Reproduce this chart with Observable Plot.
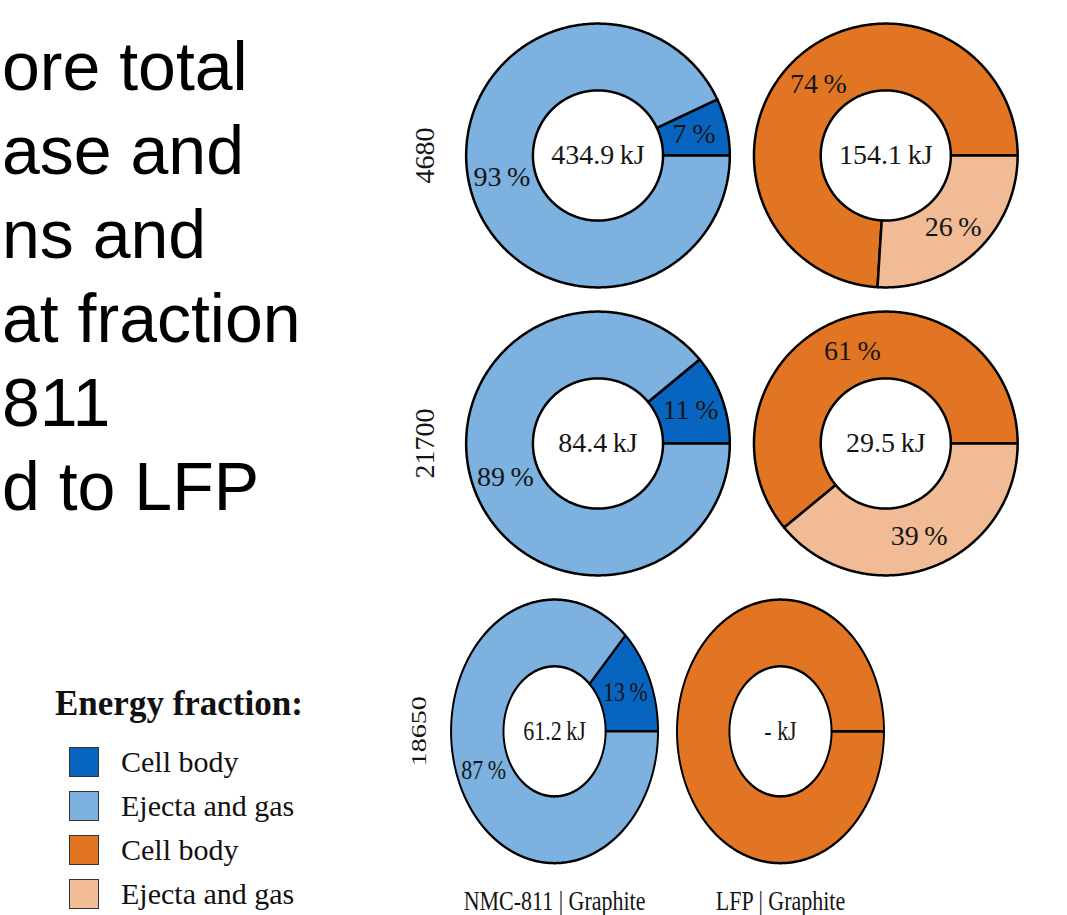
<!DOCTYPE html>
<html>
<head>
<meta charset="utf-8">
<script src="https://cdn.jsdelivr.net/npm/d3@7"></script>
<script src="https://cdn.jsdelivr.net/npm/@observablehq/plot@0.6"></script>
<style>
  html, body { margin: 0; padding: 0; background: #fff; overflow: hidden; }
  body { width: 1067px; height: 915px; position: relative; }
  .slide-line {
    position: absolute; left: 2px; white-space: nowrap;
    font-family: "Liberation Sans", Arial, sans-serif; font-size: 68px; color: #000;
    line-height: 1;
  }
  .legend { position: absolute; left: 55px; top: 684px; font-family: "Liberation Serif", "Times New Roman", serif; color: #111; }
  .legend-title { font-weight: bold; font-size: 35px; margin-bottom: 16px; }
  .legend-item { display: flex; align-items: center; height: 44px; margin-left: 14px; }
  .legend-swatch { width: 28px; height: 28px; border: 1.5px solid #333; margin-right: 22px; }
  .legend-label { font-size: 30px; }
  .row { position: absolute; left: 396px; width: 662px; }
  .row svg { display: block; }
</style>
</head>
<body>
<script>
// Energy released per cell format, split into cell body vs. ejecta and gas
const cellFormats = ["4680", "21700", "18650"];
const chemistries = ["NMC-811 | Graphite", "LFP | Graphite"];

const nmcEnergyKJ = [434.9, 84.4, 61.2];
const nmcCellBodyPct = [7, 11, 13];
const nmcEjectaPct = [93, 89, 87];

const lfpEnergyKJ = [154.1, 29.5, null];
const lfpCellBodyPct = [74, 61, null];
const lfpEjectaPct = [26, 39, null];

const nmcColors = ["#0765bf", "#7db1df"];   // cell body, ejecta and gas
const lfpColors = ["#e27524", "#f0bb95"];

const legendTitle = "Energy fraction:";
const legendLabels = ["Cell body", "Ejecta and gas", "Cell body", "Ejecta and gas"];
const legendColors = [nmcColors[0], nmcColors[1], lfpColors[0], lfpColors[1]];

const slideLines = ["ore total", "ase and", "ns and", "at fraction", "811", "d to LFP"];

// Slide text on the left
slideLines.forEach((t, i) => {
  const el = document.createElement("div");
  el.className = "slide-line";
  el.textContent = t;
  el.style.top = (94 + i * 84 - 62) + "px";
  document.body.appendChild(el);
});

// Legend
const legend = document.createElement("div");
legend.className = "legend";
const title = document.createElement("div");
title.className = "legend-title";
title.textContent = legendTitle;
legend.appendChild(title);
legendLabels.forEach((lab, i) => {
  const item = document.createElement("div");
  item.className = "legend-item";
  const sw = document.createElement("div");
  sw.className = "legend-swatch";
  sw.style.background = legendColors[i];
  const tx = document.createElement("span");
  tx.className = "legend-label";
  tx.textContent = lab;
  item.appendChild(sw);
  item.appendChild(tx);
  legend.appendChild(item);
});
document.body.appendChild(legend);

// Donut geometry (plot units: centers one unit apart)
const R_OUT = 0.458, R_IN = 0.226, R_LAB = (R_OUT + R_IN) / 2;
const STEP = 0.5; // degrees between outline vertices

function wedge(cx, a0, a1, key, color) {
  const pts = [];
  const n = Math.max(1, Math.ceil((a1 - a0) / STEP));
  for (let k = 0; k <= n; k++) {
    const a = (a0 + (a1 - a0) * k / n) * Math.PI / 180;
    pts.push({x: cx + R_OUT * Math.cos(a), y: R_OUT * Math.sin(a), key, color});
  }
  for (let k = n; k >= 0; k--) {
    const a = (a0 + (a1 - a0) * k / n) * Math.PI / 180;
    pts.push({x: cx + R_IN * Math.cos(a), y: R_IN * Math.sin(a), key, color});
  }
  pts.push({...pts[0]});
  return pts;
}

function donut(col, row, energy, cellPct, ejectaPct, colors) {
  const missing = cellPct == null;
  const parts = missing ? [100, 0] : [cellPct, ejectaPct];
  const total = parts[0] + parts[1];
  const a1 = parts[0] / total * 360;
  const outline = [
    ...wedge(col, 0, a1, `${row}-${col}-cell`, colors[0]),
    ...wedge(col, a1, 360, `${row}-${col}-ejecta`, colors[1])
  ];
  const labels = [{x: col, y: 0, text: energy == null ? "- kJ" : `${energy.toFixed(1)}\u2009kJ`}];
  if (!missing) {
    const mids = [a1 / 2, (a1 + 360) / 2];
    parts.forEach((p, i) => {
      const a = mids[i] * Math.PI / 180;
      labels.push({x: col + R_LAB * Math.cos(a), y: R_LAB * Math.sin(a), text: `${p}\u2009%`});
    });
  }
  return {outline, labels};
}

const tops = [11, 299, 587];

cellFormats.forEach((fmt, r) => {
  const a = donut(0, r, nmcEnergyKJ[r], nmcCellBodyPct[r], nmcEjectaPct[r], nmcColors);
  const b = donut(1, r, lfpEnergyKJ[r], lfpCellBodyPct[r], lfpEjectaPct[r], lfpColors);
  const last = r === cellFormats.length - 1;
  const yMin = last ? -0.64 : -0.5;
  const height = Math.round((0.5 - yMin) * 288);

  const marks = [
    Plot.line([...a.outline, ...b.outline], {
      x: "x", y: "y", z: "key", fill: "color",
      stroke: "#000", strokeWidth: 2.5, strokeLinejoin: "round", curve: "linear"
    }),
    Plot.text([...a.labels, ...b.labels], {
      x: "x", y: "y", text: "text", fontSize: 28, fill: "#151515"
    }),
    Plot.text([fmt], {x: -0.6, y: 0, text: d => d, rotate: -90, fontSize: 28, fill: "#151515"})
  ];
  if (last) {
    marks.push(Plot.text(chemistries, {
      x: (d, i) => i, y: -0.59, text: d => d, fontSize: 28, fill: "#151515"
    }));
  }

  const chart = Plot.plot({
    width: 662,
    height,
    margin: 0,
    style: {fontFamily: "'Liberation Serif', 'Times New Roman', serif", background: "transparent", overflow: "visible"},
    x: {domain: [-0.7, 1.6], axis: null},
    y: {domain: [yMin, 0.5], axis: null},
    color: {type: "identity"},
    marks
  });

  const wrap = document.createElement("div");
  wrap.className = "row";
  wrap.style.top = tops[r] + "px";
  wrap.style.height = height + "px";
  if (last) {
    // bottom row is drawn horizontally condensed
    wrap.style.transform = "scaleX(0.785)";
    wrap.style.transformOrigin = "0 0";
  }
  wrap.appendChild(chart);
  document.body.appendChild(wrap);
});
</script>
</body>
</html>
